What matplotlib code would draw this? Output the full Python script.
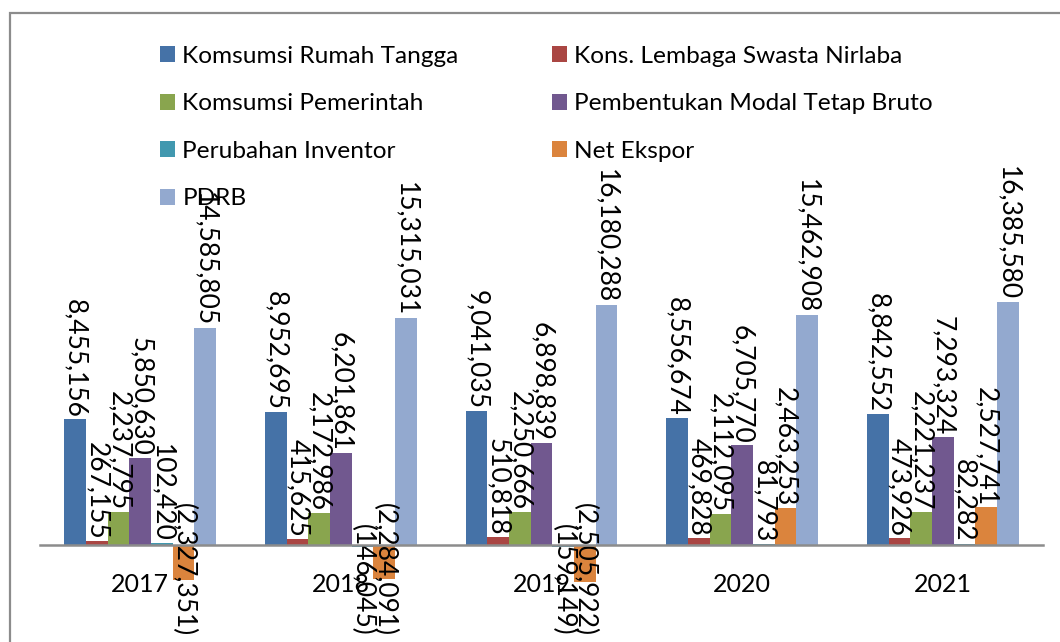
import matplotlib
matplotlib.use("Agg")
import matplotlib.pyplot as plt
import numpy as np
from matplotlib.patches import Rectangle

plt.rcParams.update({"font.family": ["Lato", "DejaVu Sans"]})

years = ["2017", "2018", "2019", "2020", "2021"]
series = ["Komsumsi Rumah Tangga", "Kons. Lembaga Swasta Nirlaba",
          "Komsumsi Pemerintah", "Pembentukan Modal Tetap Bruto",
          "Perubahan Inventor", "Net Ekspor", "PDRB"]
rumah_tangga = [8455156, 8952695, 9041035, 8556674, 8842552]
lembaga_nirlaba = [267155, 415625, 510818, 469828, 473926]
pemerintah = [2237795, 2172986, 2250666, 2112095, 2221237]
pmtb = [5850630, 6201861, 6898839, 6705770, 7293324]
inventori = [102420, -146045, -159149, 81793, 82282]
net_ekspor = [-2327351, -2284091, -2505922, 2463253, 2527741]
pdrb = [14585805, 15315031, 16180288, 15462908, 16385580]
colors = ["#4572A7", "#AA4643", "#89A54E", "#71588F", "#4198AF", "#DB843D", "#93A9CF"]

values = [rumah_tangga, lembaga_nirlaba, pemerintah, pmtb, inventori, net_ekspor, pdrb]

W, H = 1060, 642
fig = plt.figure(figsize=(W / 100, H / 100), dpi=100)
# chart-area frame (cut off at right/bottom like the source)
fig.patches.append(Rectangle((10 / W, -0.1), 1.2, 1 - 13 / H + 0.1,
                             transform=fig.transFigure, fill=False,
                             ec="#8c8c8c", lw=1.6))

ax = fig.add_axes([40 / W, 0, (1043 - 40) / W, 1 - 30 / H])
px_per_m = 14.85 / 1e6
ymin = -(642 - 545) / px_per_m
ymax = (545 - 30) / px_per_m
ax.set_ylim(ymin, ymax)
ax.set_xlim(-0.5, len(years) - 0.5)

x = np.arange(len(years))
bw = 0.108
fs_lab, fs_tick, fs_leg = 19, 18, 17.6
for k, (name, vals, c) in enumerate(zip(series, values, colors)):
    xs = x + (k - 3) * bw
    ax.bar(xs, vals, width=bw, color=c, label=name, zorder=2)
    for xi, v in zip(xs, vals):
        txt = f"{v:,}" if v >= 0 else f"({-v:,})"
        yy = v + 0.12e6 if v >= 0 else ymin + 0.4e6
        ax.text(xi, yy, txt, rotation=270, ha="center", va="bottom",
                fontsize=fs_lab, color="black", zorder=3)

ax.spines[["top", "right", "left"]].set_visible(False)
ax.spines["bottom"].set_position(("data", 0))
ax.spines["bottom"].set_color("#8c8c8c")
ax.spines["bottom"].set_linewidth(1.8)
ax.spines["bottom"].set_zorder(4)
ax.set_yticks([])
ax.set_xticks(x)
ax.set_xticklabels(years, fontsize=fs_tick)
ax.tick_params(axis="x", length=0, pad=20)
ax.patch.set_visible(False)

h, l = ax.get_legend_handles_labels()
order = [0, 2, 4, 6, 1, 3, 5]
fig.legend([h[i] for i in order], [l[i] for i in order], ncol=2,
           loc="upper left", bbox_to_anchor=(160 / W, 1 - 46 / H),
           frameon=False, fontsize=fs_leg, borderpad=0, borderaxespad=0,
           handlelength=0.62, handleheight=0.62, handletextpad=0.3,
           labelspacing=1.08, columnspacing=3.8)

fig.savefig("out.png", dpi=100)
